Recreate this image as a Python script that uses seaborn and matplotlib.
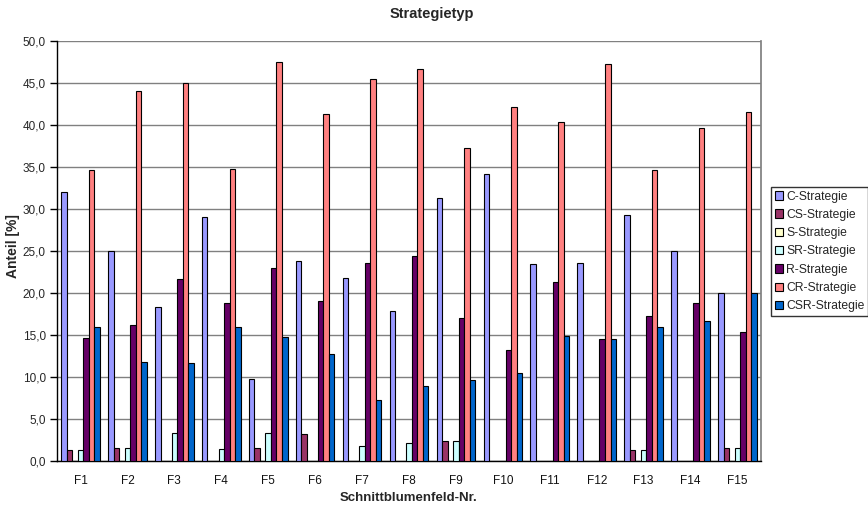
import matplotlib
matplotlib.use("Agg")
import matplotlib.pyplot as plt
import matplotlib.ticker as mticker
import numpy as np
import pandas as pd
import seaborn as sns

fields = ["F1", "F2", "F3", "F4", "F5", "F6", "F7", "F8", "F9", "F10",
          "F11", "F12", "F13", "F14", "F15"]
strategies = ["C-Strategie", "CS-Strategie", "S-Strategie", "SR-Strategie",
              "R-Strategie", "CR-Strategie", "CSR-Strategie"]

c_vals   = [32.0, 25.0, 18.3, 29.0, 9.8, 23.8, 21.8, 17.8, 31.3, 34.2, 23.4, 23.6, 29.3, 25.0, 20.0]
cs_vals  = [1.3, 1.5, 0.0, 0.0, 1.6, 3.2, 0.0, 0.0, 2.4, 0.0, 0.0, 0.0, 1.3, 0.0, 1.5]
s_vals   = [0.0] * 15
sr_vals  = [1.3, 1.5, 3.3, 1.4, 3.3, 0.0, 1.8, 2.2, 2.4, 0.0, 0.0, 0.0, 1.3, 0.0, 1.5]
r_vals   = [14.7, 16.2, 21.7, 18.8, 23.0, 19.0, 23.6, 24.4, 17.0, 13.2, 21.3, 14.5, 17.3, 18.8, 15.4]
cr_vals  = [34.7, 44.1, 45.0, 34.8, 47.5, 41.3, 45.5, 46.7, 37.3, 42.1, 40.4, 47.3, 34.7, 39.6, 41.5]
csr_vals = [16.0, 11.8, 11.7, 15.9, 14.8, 12.7, 7.3, 8.9, 9.6, 10.5, 14.9, 14.5, 16.0, 16.7, 20.0]

colors = ["#9999FF", "#993366", "#FFFFCC", "#CCFFFF", "#660066", "#FF8080", "#0066CC"]

series = [c_vals, cs_vals, s_vals, sr_vals, r_vals, cr_vals, csr_vals]
df = pd.DataFrame({
    "Feld": np.repeat([fields], len(strategies), axis=0).ravel(),
    "Strategie": np.repeat(strategies, len(fields)),
    "Anteil": np.concatenate(series),
})

sns.set_theme(style="white")
plt.rcParams["font.family"] = ["Liberation Sans", "DejaVu Sans"]

fig = plt.figure(figsize=(8.68, 5.05), dpi=100)
ax = fig.add_axes([57 / 868, 1 - 461 / 505, (761 - 57) / 868, (461 - 41) / 505])

sns.barplot(data=df, x="Feld", y="Anteil", hue="Strategie",
            order=fields, hue_order=strategies, palette=colors,
            width=7 / 8.5, gap=0, edgecolor="black", linewidth=0.8,
            saturation=1, errorbar=None, ax=ax, zorder=3)

ax.set_ylim(0, 50)
ax.set_xlim(-0.5, len(fields) - 0.5)
ax.yaxis.set_major_locator(mticker.MultipleLocator(5))
ax.yaxis.set_major_formatter(mticker.FuncFormatter(lambda v, p: f"{v:.1f}".replace(".", ",")))
ax.grid(axis="y", color="#808080", linewidth=1.0, zorder=0)
ax.set_axisbelow(True)

# category ticks sit between groups
ax.set_xticks(np.arange(len(fields)))
ax.set_xticklabels(fields)
ax.set_xticks(np.arange(len(fields) + 1) - 0.5, minor=True)
ax.tick_params(axis="x", which="major", length=0, pad=10, labelsize=8.5, colors="#111111")
ax.tick_params(axis="x", which="minor", length=5, width=1, color="black", direction="out")
ax.tick_params(axis="y", length=5, width=1, color="black", direction="out",
               labelsize=8.5, pad=3, left=True)

for side in ["left", "bottom"]:
    ax.spines[side].set_color("black")
    ax.spines[side].set_linewidth(1.0)
ax.spines["top"].set_visible(False)
ax.spines["right"].set_color("#808080")

ax.set_xlabel("")
ax.set_ylabel("")
fig.text(409 / 868, 1 - 498 / 505, "Schnittblumenfeld-Nr.", ha="center", va="center",
         fontsize=9.5, fontweight="bold")
fig.text(13 / 868, 1 - 246 / 505, "Anteil [%]", ha="center", va="center",
         rotation=90, fontsize=10, fontweight="bold")
fig.text(432 / 868, 1 - 14 / 505, "Strategietyp", ha="center", va="center",
         fontsize=10.5, fontweight="bold")

leg = ax.legend(loc="upper left", bbox_to_anchor=(771 / 868, 1 - 187 / 505),
                bbox_transform=fig.transFigure, frameon=True, fancybox=False,
                edgecolor="black", fontsize=8.7, handlelength=0.7, handleheight=0.7,
                handletextpad=0.25, labelspacing=0.52, borderpad=0.3,
                borderaxespad=0)
leg.get_frame().set_linewidth(1.0)
for h in leg.legend_handles:
    h.set_edgecolor("black")
    h.set_linewidth(0.8)

fig.savefig("out.png", dpi=100)
